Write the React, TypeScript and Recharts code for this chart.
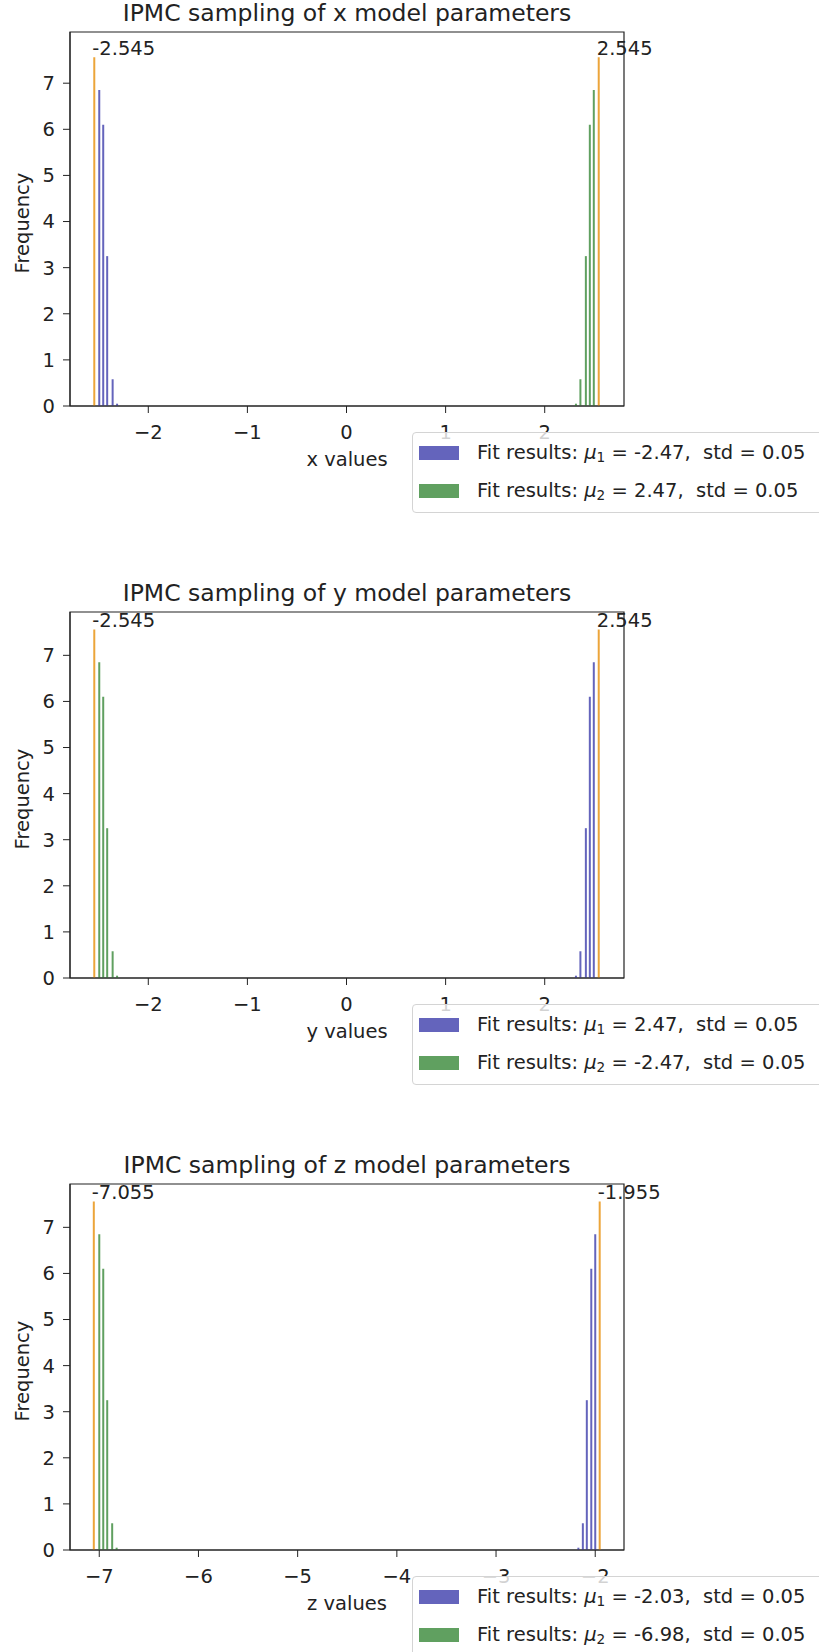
import { ComposedChart, Bar, XAxis, YAxis, ReferenceLine, ReferenceDot, ReferenceArea, Legend } from "recharts"

// histogram bins (bin centres) and frequencies
const xBlueBins = [-2.495, -2.455, -2.415, -2.36, -2.315]
const xBlueFreq = [6.85, 6.1, 3.25, 0.58, 0.05]
const xGreenBins = [2.315, 2.36, 2.415, 2.455, 2.495]
const xGreenFreq = [0.05, 0.58, 3.25, 6.1, 6.85]
const xPeaks = [-2.545, 2.545]
const xPeakFreq = [7.56, 7.56]
const xFitMu = [-2.47, 2.47]
const xFitStd = [0.05, 0.05]

const yBlueBins = [2.315, 2.36, 2.415, 2.455, 2.495]
const yBlueFreq = [0.05, 0.58, 3.25, 6.1, 6.85]
const yGreenBins = [-2.495, -2.455, -2.415, -2.36, -2.315]
const yGreenFreq = [6.85, 6.1, 3.25, 0.58, 0.05]
const yPeaks = [-2.545, 2.545]
const yPeakFreq = [7.56, 7.56]
const yFitMu = [2.47, -2.47]
const yFitStd = [0.05, 0.05]

const zBlueBins = [-2.17, -2.125, -2.085, -2.04, -2.0]
const zBlueFreq = [0.05, 0.58, 3.25, 6.1, 6.85]
const zGreenBins = [-7.0, -6.96, -6.92, -6.87, -6.825]
const zGreenFreq = [6.85, 6.1, 3.25, 0.58, 0.05]
const zPeaks = [-7.055, -1.955]
const zPeakFreq = [7.56, 7.56]
const zFitMu = [-2.03, -6.98]
const zFitStd = [0.05, 0.05]

const xyTicks = [-2, -1, 0, 1, 2]
const zTicks = [-7, -6, -5, -4, -3, -2]
const freqTicks = [0, 1, 2, 3, 4, 5, 6, 7]

const BLUE = "#6464bc"
const GREEN = "#60a060"
const ORANGE = "#eca53a"
const INK = "#222"
const FS = 19.5

const fmtTick = (v: number) => (v < 0 ? `\u2212${Math.abs(v)}` : `${v}`)

function FitLegend({ payload, fitMu, fitStd }: any) {
  const order = ["blue", "green"]
  const items = order.map((k) => (payload || []).find((e: any) => e.dataKey === k)).filter(Boolean)
  return (
    <div
      style={{
        position: "relative",
        width: 430,
        height: 81,
        boxSizing: "border-box",
        border: "1px solid #d4d4d4",
        borderRadius: 4,
        background: "rgba(255,255,255,0.8)",
      }}
    >
      {items.map((e: any, i: number) => (
        <div
          key={e.dataKey}
          style={{ position: "absolute", left: 6, top: (i === 0 ? 20 : 58) - 11, height: 22, display: "flex", alignItems: "center" }}
        >
          <div style={{ width: 40, height: 14, background: e.color }} />
          <span style={{ marginLeft: 18, fontSize: FS, color: INK, whiteSpace: "pre", lineHeight: "22px" }}>
            {"Fit results: "}
            <span style={{ fontStyle: "italic" }}>μ</span>
            <span style={{ fontSize: "0.7em", position: "relative", top: "0.25em" }}>{i + 1}</span>
            {` = ${fitMu[i].toFixed(2)},  std = ${fitStd[i].toFixed(2)}`}
          </span>
        </div>
      ))}
    </div>
  )
}

function Panel(props: any) {
  const {
    title, axisLabel, domain, ticks, yMax, blueBins, blueFreq, greenBins, greenFreq,
    peaks, peakFreq, fitMu, fitStd, height, marginTop, plotHeight,
  } = props
  const axisH = 60
  const rows = [
    ...blueBins.map((x: number, i: number) => ({ x, blue: blueFreq[i] })),
    ...greenBins.map((x: number, i: number) => ({ x, green: greenFreq[i] })),
  ].sort((a, b) => a.x - b.x)
  const plotBottom = marginTop + plotHeight

  return (
    <div style={{ position: "relative", width: 819, height }}>
      <div
        style={{
          position: "absolute",
          left: 70,
          width: 554,
          top: marginTop - 10 - 0.846 * 23.5,
          textAlign: "center",
          fontSize: 23.5,
          lineHeight: 1,
          color: INK,
          whiteSpace: "pre",
        }}
      >
        {title}
      </div>
      <ComposedChart
        width={819}
        height={height}
        data={rows}
        margin={{ top: marginTop, right: 195, left: 0, bottom: height - plotBottom - axisH }}
        barGap={0}
      >
        <XAxis
          type="number"
          dataKey="x"
          domain={domain}
          ticks={ticks}
          allowDataOverflow
          interval={0}
          tickFormatter={fmtTick}
          tickSize={7}
          tickMargin={12}
          height={axisH}
          stroke={INK}
          tick={{ fill: INK, fontSize: FS }}
          label={{ value: axisLabel, position: "insideBottom", offset: 0, fill: INK, fontSize: FS }}
        />
        <YAxis
          type="number"
          domain={[0, yMax]}
          ticks={freqTicks}
          allowDataOverflow
          interval={0}
          width={70}
          tickSize={7}
          tickMargin={8}
          stroke={INK}
          tick={{ fill: INK, fontSize: FS }}
          label={(p: any) => {
            const vb = p.viewBox
            const cx = 29
            const cy = vb.y + vb.height / 2 + 4
            return (
              <text x={cx} y={cy} transform={`rotate(-90, ${cx}, ${cy})`} textAnchor="middle" fill={INK} fontSize={FS}>
                Frequency
              </text>
            )
          }}
        />
        <Bar dataKey="blue" name="blue" stackId="h" fill={BLUE} barSize={2} isAnimationActive={false} />
        <Bar dataKey="green" name="green" stackId="h" fill={GREEN} barSize={2} isAnimationActive={false} />
        {peaks.map((p: number, i: number) => (
          <ReferenceLine
            key={`l${i}`}
            segment={[{ x: p, y: 0 }, { x: p, y: peakFreq[i] }]}
            stroke={ORANGE}
            strokeWidth={2}
            ifOverflow="visible"
          />
        ))}
        {peaks.map((p: number, i: number) => (
          <ReferenceDot
            key={`d${i}`}
            x={p}
            y={peakFreq[i]}
            r={0}
            ifOverflow="visible"
            shape={(s: any) => (
              <text x={s.cx - 2} y={s.cy - 2.5} fill={INK} fontSize={FS} textAnchor="start">
                {p.toFixed(3)}
              </text>
            )}
          />
        ))}
        <ReferenceArea
          x1={domain[0]}
          x2={domain[1]}
          y1={0}
          y2={yMax}
          fill="none"
          stroke={INK}
          strokeWidth={1.2}
          ifOverflow="visible"
        />
        <Legend
          layout="horizontal"
          verticalAlign="middle"
          align="center"
          wrapperStyle={{ left: 412, top: plotBottom + 26, width: 430, height: 81 }}
          content={(lp: any) => <FitLegend payload={lp.payload} fitMu={fitMu} fitStd={fitStd} />}
        />
      </ComposedChart>
    </div>
  )
}

export default function App() {
  return (
    <div style={{ width: 819, height: 1652, overflow: "hidden", position: "relative", background: "#fff", fontFamily: "'DejaVu Sans', sans-serif" }}>
      <style>{"body{margin:0}"}</style>
      <Panel
        title="IPMC sampling of x model parameters"
        axisLabel="x values"
        domain={[-2.79, 2.8]}
        ticks={xyTicks}
        yMax={8.11}
        blueBins={xBlueBins}
        blueFreq={xBlueFreq}
        greenBins={xGreenBins}
        greenFreq={xGreenFreq}
        peaks={xPeaks}
        peakFreq={xPeakFreq}
        fitMu={xFitMu}
        fitStd={xFitStd}
        height={570}
        marginTop={32}
        plotHeight={374}
      />
      <Panel
        title="IPMC sampling of y model parameters"
        axisLabel="y values"
        domain={[-2.79, 2.8]}
        ticks={xyTicks}
        yMax={7.94}
        blueBins={yBlueBins}
        blueFreq={yBlueFreq}
        greenBins={yGreenBins}
        greenFreq={yGreenFreq}
        peaks={yPeaks}
        peakFreq={yPeakFreq}
        fitMu={yFitMu}
        fitStd={yFitStd}
        height={570}
        marginTop={42}
        plotHeight={366}
      />
      <Panel
        title="IPMC sampling of z model parameters"
        axisLabel="z values"
        domain={[-7.295, -1.71]}
        ticks={zTicks}
        yMax={7.94}
        blueBins={zBlueBins}
        blueFreq={zBlueFreq}
        greenBins={zGreenBins}
        greenFreq={zGreenFreq}
        peaks={zPeaks}
        peakFreq={zPeakFreq}
        fitMu={zFitMu}
        fitStd={zFitStd}
        height={512}
        marginTop={44}
        plotHeight={366}
      />
    </div>
  )
}
